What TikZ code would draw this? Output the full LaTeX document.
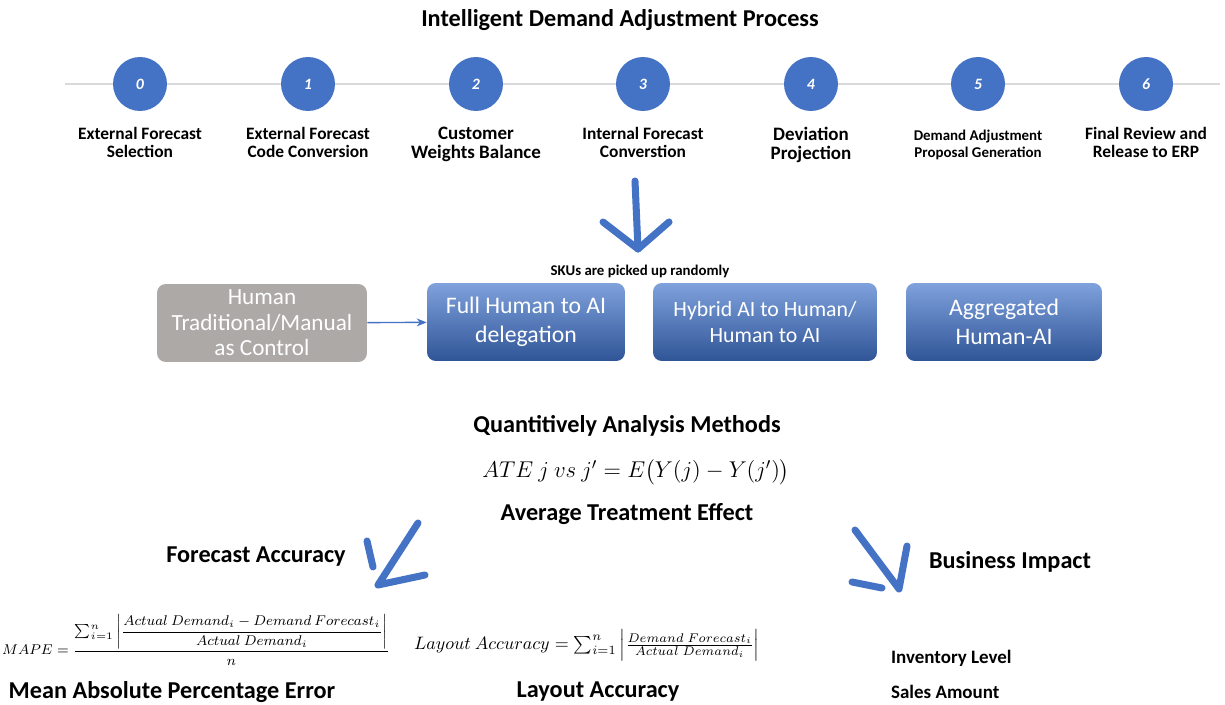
\RequirePackage{fix-cm}
\documentclass[tikz,border=0pt]{standalone}
\usepackage{amsmath}
\usepackage{fontspec}
\setmainfont{Carlito}
\usetikzlibrary{positioning,arrows.meta}
\definecolor{stepblue}{HTML}{4472C4}
\definecolor{boxtop}{HTML}{7FA1DC}
\definecolor{boxbot}{HTML}{2F5597}
\definecolor{ctrlgrey}{HTML}{ADA9A7}
\definecolor{linegrey}{HTML}{D9D9D9}
\tikzset{
  stepnum/.style = {circle, fill=stepblue, minimum size=1.08cm, inner sep=0pt,
                    text=white, font=\bfseries\itshape\small},
  steplab/.style = {align=center, inner sep=1pt,
                    font=\bfseries\fontsize{9.9}{10.2}\selectfont},
  group/.style   = {rectangle, rounded corners=5pt, text=white, align=center,
                    minimum height=1.56cm, inner sep=2pt,
                    top color=boxtop, bottom color=boxbot,
                    font=\fontsize{13.5}{16.4}\selectfont},
  ctrl/.style    = {group, top color=ctrlgrey, bottom color=ctrlgrey,
                    font=\fontsize{13.2}{14.5}\selectfont},
  head/.style    = {font=\bfseries\fontsize{13.8}{16}\selectfont, inner sep=1pt},
  small/.style   = {font=\bfseries\fontsize{10.8}{12}\selectfont, inner sep=1pt},
  arr/.style     = {-{Stealth[length=2mm,width=1.6mm]}, stepblue, thick},
  sketch/.style  = {stepblue, line width=4pt, line cap=round, line join=round}
}

\begin{document}
\begin{tikzpicture}[x=0.02cm, y=-0.02cm]
  \useasboundingbox (0,0) rectangle (1225,705);
  \node[head] (title) at (620,20) {Intelligent Demand Adjustment Process};

  % process steps
  \coordinate (l0) at (65,84);
  \coordinate (l1) at (1220,84);
  \draw[linegrey, thick] (l0) -- (l1);
  \foreach \n/\x in {0/140,1/308,2/476,3/643,4/811,5/978,6/1146}
    \node[stepnum] (s\n) at (\x,84) {\n};

  \node[steplab, below=0.28cm of s0] (t0) {External Forecast\\Selection};
  \node[steplab, below=0.28cm of s1] (t1) {External Forecast\\Code Conversion};
  \node[steplab, below=0.27cm of s2, font=\bfseries\fontsize{10.8}{10.8}\selectfont]
    (t2) {Customer\\Weights Balance};
  \node[steplab, below=0.28cm of s3] (t3) {Internal Forecast\\Converstion};
  \node[steplab, below=0.27cm of s4, font=\bfseries\fontsize{10.8}{10.8}\selectfont]
    (t4) {Deviation\\Projection};
  \node[steplab, below=0.34cm of s5, font=\bfseries\fontsize{8.5}{9.4}\selectfont]
    (t5) {Demand Adjustment\\Proposal Generation};
  \node[steplab, below=0.27cm of s6] (t6) {Final Review and\\Release to ERP};

  % big arrow down
  \coordinate (a0) at (635,181);
  \coordinate (a1) at (638,249);
  \draw[sketch] (a0) -- (a1);
  \draw[sketch] (603,222) -- (a1) -- (669,222);
  \node[small, font=\bfseries\fontsize{8.45}{9}\selectfont] (sku) at (640,271)
    {SKUs are picked up randomly};

  % treatment groups
  \node[ctrl, minimum width=4.2cm] (human) at (262,323)
    {Human\\Traditional/Manual\\as Control};
  \node[group, minimum width=3.96cm] (full) at (526,322)
    {Full Human to AI\\delegation};
  \node[group, minimum width=4.48cm, font=\fontsize{12.4}{15.2}\selectfont]
    (hybrid) at (765,322) {Hybrid AI to Human/\\Human to AI};
  \node[group, minimum width=3.92cm] (aggr) at (1004,322)
    {Aggregated\\Human-AI};
  \draw[arr] (human) -- (full);

  % analysis
  \node[head] (qam) at (627,426) {Quantitively Analysis Methods};
  \node[font=\fontsize{13}{16}\selectfont] (ate) at (636,472)
    {$ATE\ j\ vs\ j' = E\bigl(Y(j) - Y(j')\bigr)$};
  \node[head] (ate lab) at (627,514) {Average Treatment Effect};

  % arrow to forecast accuracy
  \coordinate (b0) at (418,523);
  \coordinate (b1) at (378,585);
  \draw[sketch] (b0) -- (b1) -- (425,575);
  \draw[sketch] (367,541) -- (373,567);
  % arrow to business impact
  \coordinate (c0) at (855,530);
  \coordinate (c1) at (899,589);
  \draw[sketch] (c0) -- (c1) -- (907,546);
  \draw[sketch] (852,582) -- (882,588);

  \node[head] (fa) at (256,557) {Forecast Accuracy};
  \node[head] (bi) at (1010,562) {Business Impact};

  \node[font=\fontsize{8.05}{10}\selectfont] (mape) at (196,640)
    {$MAPE = \dfrac{\sum_{i=1}^{n}\left|\dfrac{Actual\ Demand_i - Demand\ Forecast_i}{Actual\ Demand_i}\right|}{n}$};
  \node[font=\fontsize{10.25}{12}\selectfont] (la) at (587,645)
    {$Layout\ Accuracy = \sum_{i=1}^{n}\left|\frac{Demand\ Forecast_i}{Actual\ Demand_i}\right|$};
  \node[head] (mape lab) at (172,692) {Mean Absolute Percentage Error};
  \node[head] (la lab) at (598,692) {Layout Accuracy};
  \node[small, anchor=west] (inv) at (889,658) {Inventory Level};
  \node[small, anchor=west] (sales) at (889,692) {Sales Amount};
\end{tikzpicture}
\end{document}
